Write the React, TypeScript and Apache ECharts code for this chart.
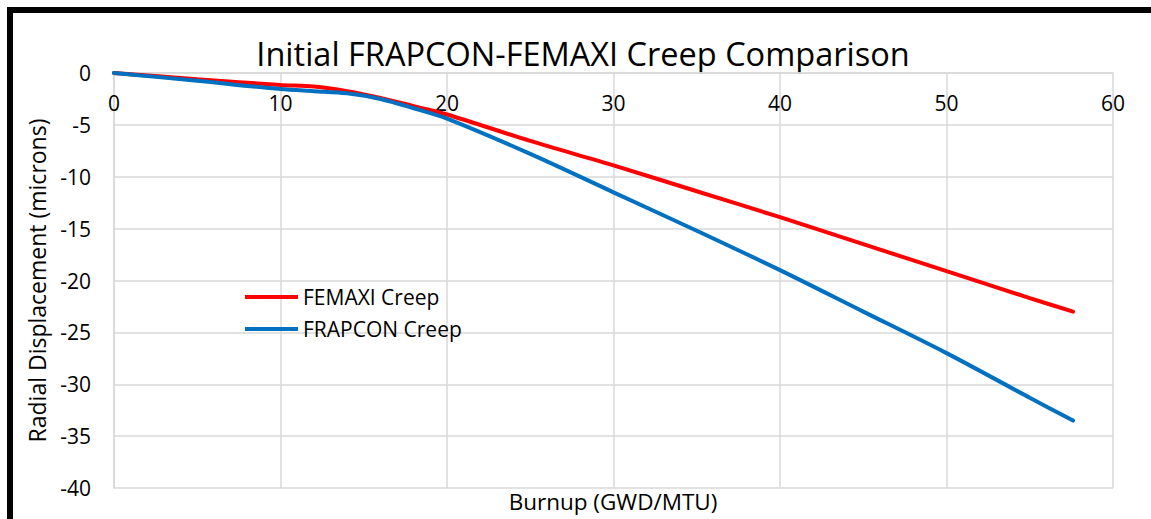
import React, { useEffect, useRef } from "react";
import * as echarts from "echarts";

const burnup = [0, 5, 10, 12, 14, 16, 18, 20, 25, 30, 35, 40, 45, 50, 55, 57.6];
const femaxiCreep = [0, -0.6, -1.15, -1.3, -1.75, -2.4, -3.2, -4.0, -6.55, -8.9, -11.4, -13.9, -16.5, -19.1, -21.7, -23.0];
const frapconCreep = [0, -0.75, -1.55, -1.75, -1.95, -2.5, -3.4, -4.4, -7.8, -11.5, -15.2, -19.0, -23.0, -27.0, -31.3, -33.5];
const seriesNames = ["FEMAXI Creep", "FRAPCON Creep"];
const titleText = "Initial FRAPCON-FEMAXI Creep Comparison";
const xTitle = "Burnup (GWD/MTU)";
const yTitle = "Radial Displacement (microns)";

const FONT = "'Open Sans', sans-serif";

export default function App() {
  const ref = useRef<HTMLDivElement>(null);
  useEffect(() => {
    document.body.style.margin = "0";
    const chart = echarts.init(ref.current!, null, { renderer: "svg" });
    const grid = "#d9d9d9";
    chart.setOption({
      animation: false,
      backgroundColor: "#ffffff",
      grid: { left: 114, right: 38, top: 73, bottom: 31 },
      legend: {
        orient: "vertical",
        left: 240,
        top: 281,
        itemWidth: 53,
        itemHeight: 4,
        itemGap: 10,
        icon: "rect",
        textStyle: { fontFamily: FONT, fontSize: 21, color: "#000", lineHeight: 22 },
        data: seriesNames,
      },
      xAxis: {
        type: "value",
        position: "top",
        min: 0,
        max: 60,
        interval: 10,
        axisLine: { show: true, lineStyle: { color: grid, width: 1.5 } },
        axisTick: { show: false },
        axisLabel: { inside: true, fontFamily: FONT, fontSize: 21, color: "#000", margin: 19 },
        splitLine: { show: true, lineStyle: { color: grid, width: 1.5 } },
      },
      yAxis: {
        type: "value",
        min: -40,
        max: 0,
        interval: 5,
        name: yTitle,
        nameLocation: "middle",
        nameGap: 66,
        nameTextStyle: { fontFamily: FONT, fontSize: 23, color: "#000" },
        axisLine: { show: true, lineStyle: { color: grid, width: 1.5 } },
        axisTick: { show: false },
        axisLabel: { fontFamily: FONT, fontSize: 21, color: "#000", margin: 23 },
        splitLine: { show: true, lineStyle: { color: grid, width: 1.5 } },
      },
      graphic: [
        { type: "rect", left: 7, top: 7, shape: { width: 1144, height: 6 }, style: { fill: "#000" }, z: 100 },
        { type: "rect", left: 7, top: 7, shape: { width: 6, height: 512 }, style: { fill: "#000" }, z: 100 },
        {
          type: "text",
          x: 583,
          y: 53,
          style: { text: titleText, font: `32.5px ${FONT}`, fill: "#000", textAlign: "center", textVerticalAlign: "middle" },
        },
        {
          type: "text",
          x: 613,
          y: 501,
          style: { text: xTitle, font: `22.5px ${FONT}`, fill: "#000", textAlign: "center", textVerticalAlign: "middle" },
        },
      ],
      series: [
        {
          name: seriesNames[0],
          type: "line",
          data: burnup.map((b, i) => [b, femaxiCreep[i]]),
          smooth: 0.3,
          symbol: "none",
          lineStyle: { color: "#ff0000", width: 4, cap: "round" },
          itemStyle: { color: "#ff0000" },
        },
        {
          name: seriesNames[1],
          type: "line",
          data: burnup.map((b, i) => [b, frapconCreep[i]]),
          smooth: 0.3,
          symbol: "none",
          lineStyle: { color: "#0070c0", width: 4, cap: "round" },
          itemStyle: { color: "#0070c0" },
        },
      ],
    });
    return () => chart.dispose();
  }, []);
  return <div ref={ref} style={{ width: 1151, height: 519 }} />;
}
